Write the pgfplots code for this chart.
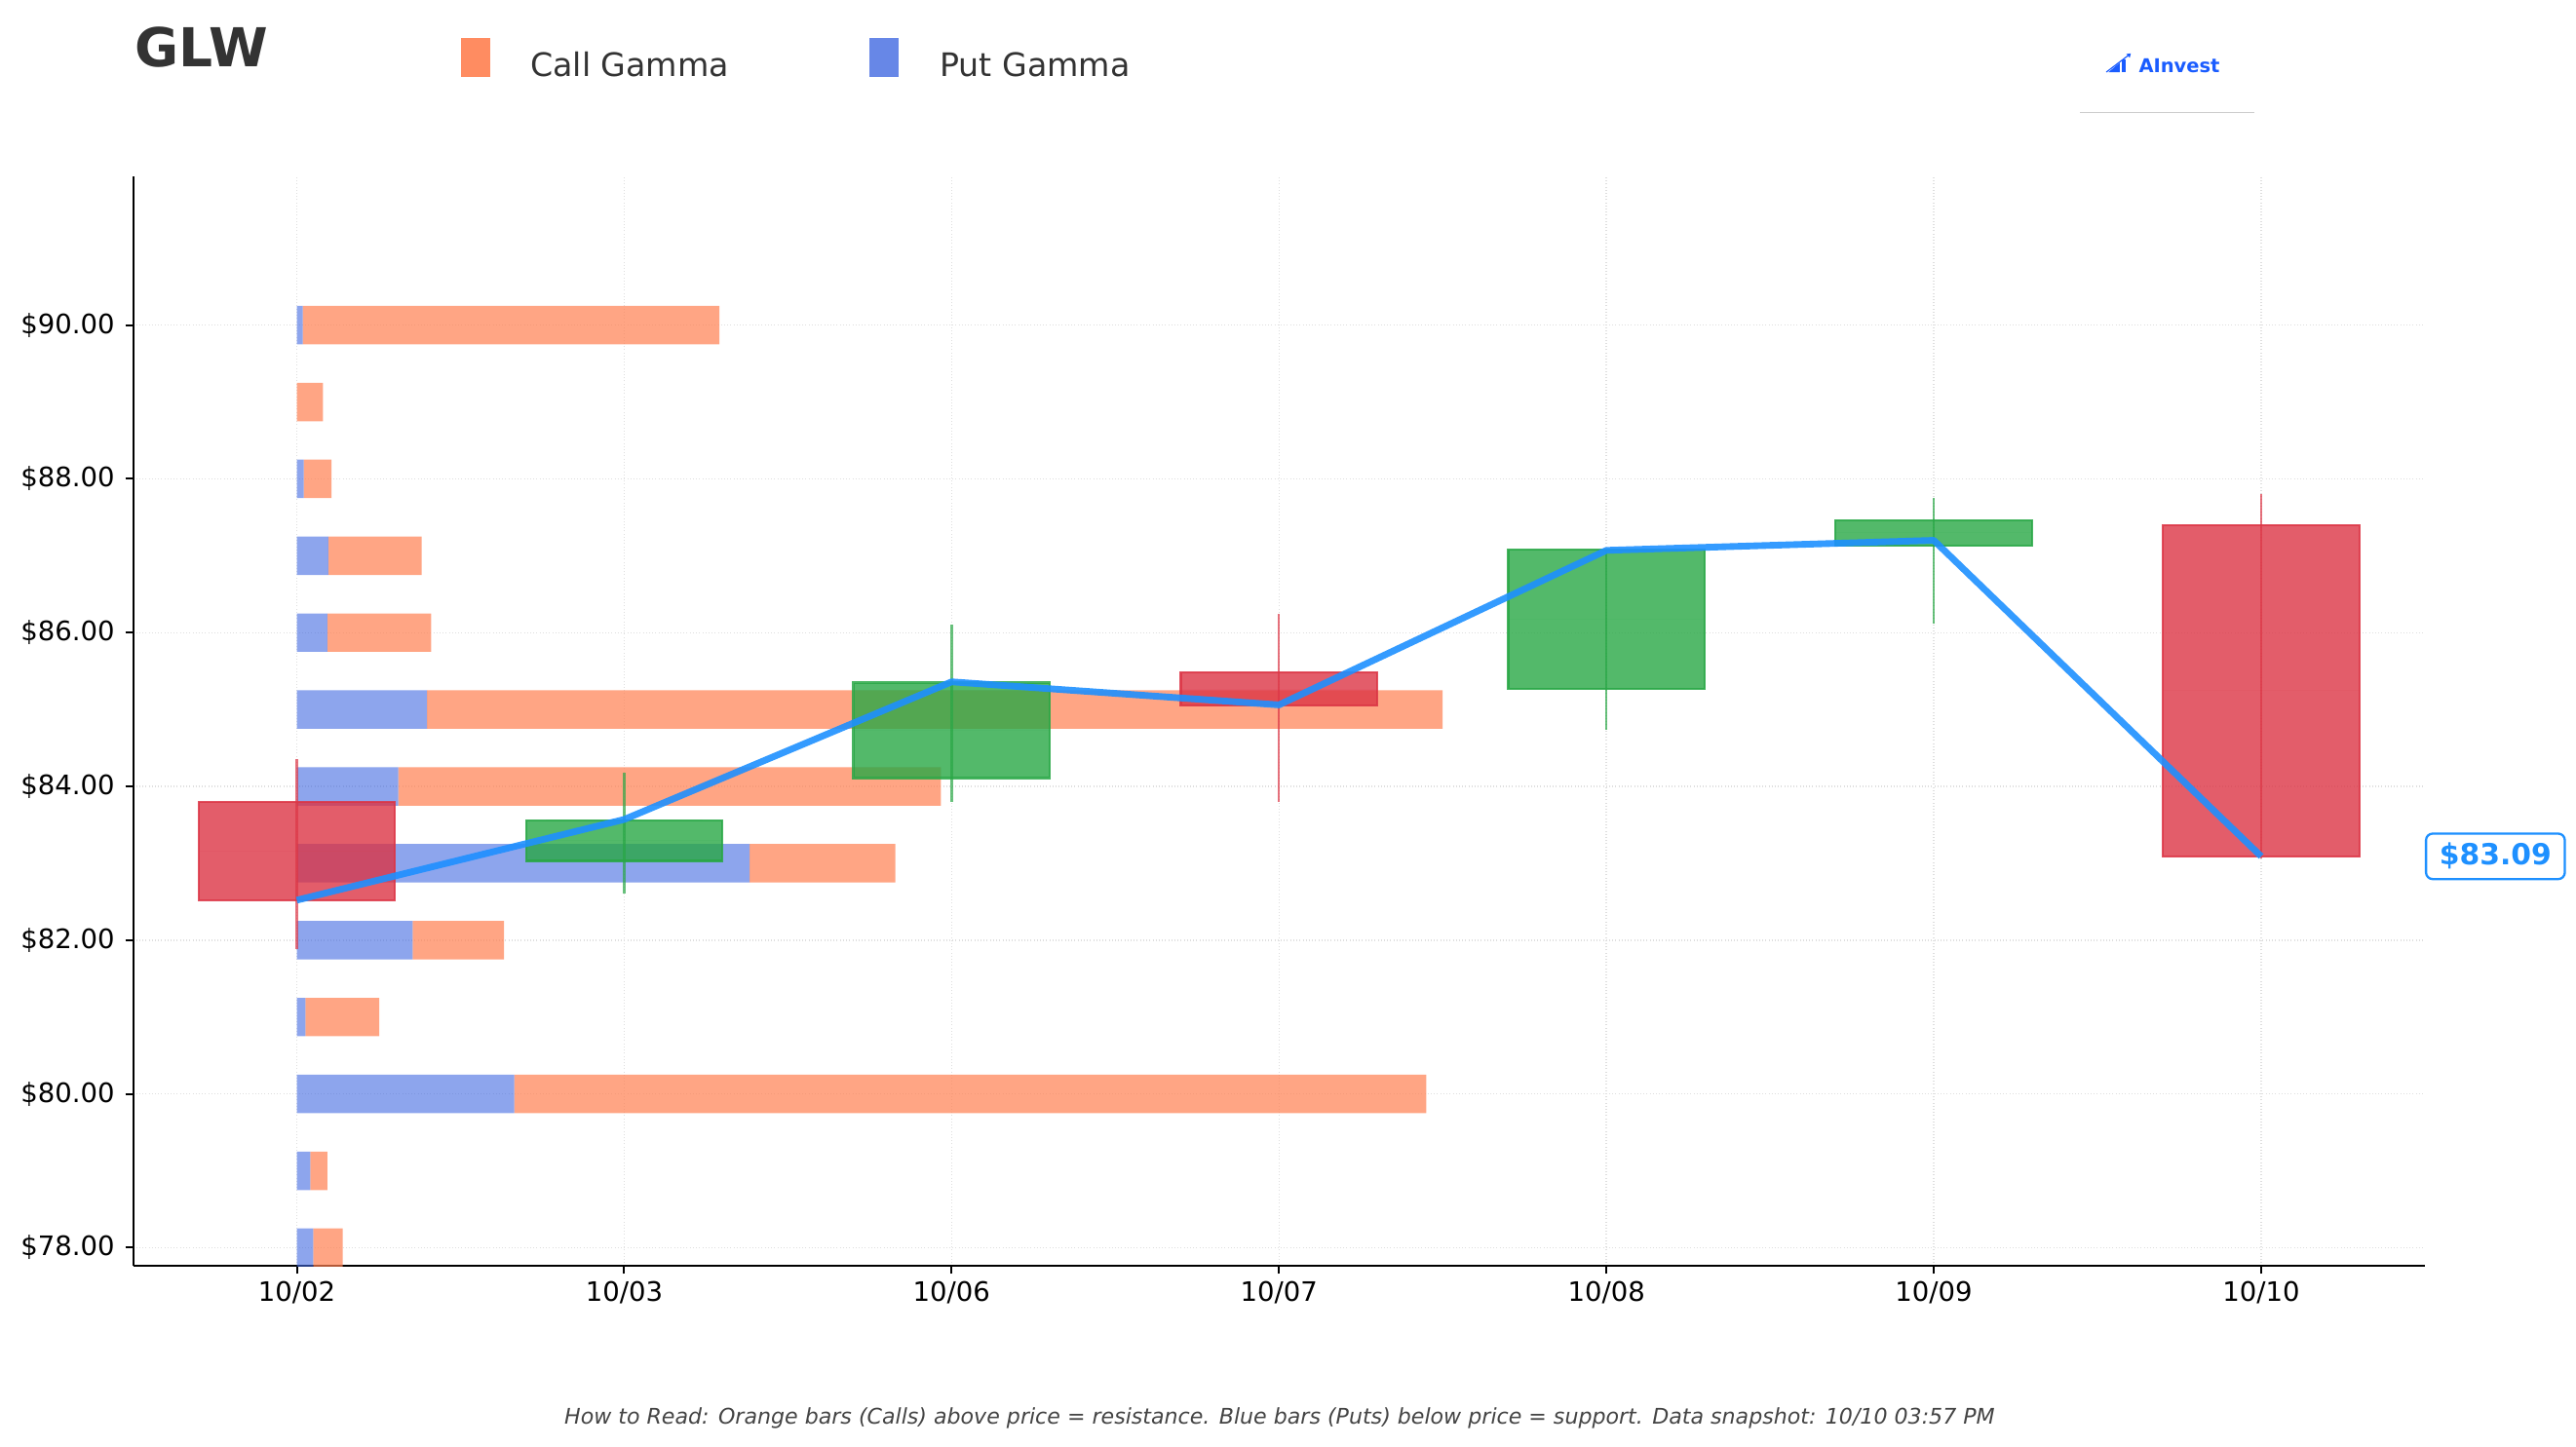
\documentclass[border=0pt]{standalone}
\usepackage{fontspec}
\setmainfont{DejaVu Sans}
\usepackage{pgfplots}
\usepackage{pgfplotstable}
\pgfplotsset{compat=1.18}
\usepgfplotslibrary{statistics}

\definecolor{callc}{HTML}{FF7F50}
\definecolor{putc}{HTML}{4169E1}
\definecolor{upc}{HTML}{28A745}
\definecolor{downc}{HTML}{DC3545}
\definecolor{pricec}{HTML}{1E90FF}
\definecolor{textc}{HTML}{333333}
\definecolor{footc}{HTML}{444444}
\definecolor{brandc}{HTML}{1A5CFF}

% gamma exposure per strike (normalised), puts and calls
\pgfplotstableread{
strike put   call
78     0.050 0.090
79     0.041 0.052
80     0.664 2.786
81     0.026 0.226
82     0.354 0.279
83     1.383 0.445
84     0.310 1.657
85     0.398 3.102
86     0.093 0.317
87     0.096 0.285
88     0.021 0.085
89     0.000 0.080
90     0.018 1.273
}\gammatable

\pgfplotsset{
  chartframe/.style={
    width=1026.1pt, height=488.2pt, scale only axis,
    xmin=-0.5, xmax=6.5, ymin=77.76, ymax=91.94,
    enlargelimits=false,
  },
}

\begin{document}
\begin{tikzpicture}
\useasboundingbox (-59.6pt,-80.6pt) rectangle (1093.7pt,567.0pt);

% gamma bars, grid and axes
\begin{axis}[chartframe,
  axis x line*=bottom, axis y line*=left,
  axis line style={-, line width=0.9pt, black},
  xtick={0,...,6},
  xticklabels={10/02,10/03,10/06,10/07,10/08,10/09,10/10},
  ytick={78,80,...,90},
  yticklabels={\$78.00,\$80.00,\$82.00,\$84.00,\$86.00,\$88.00,\$90.00},
  tick align=outside, major tick length=3.5pt,
  tick style={black, line width=0.9pt},
  tick label style={font=\fontsize{12}{14}\selectfont},
  yticklabel style={xshift=-1.2pt},
  grid=major,
  major grid style={densely dotted, line width=0.6pt, black!13},
  xbar stacked, bar width=0.5,
]
\addplot[fill=putc, fill opacity=0.6, draw=none] table[x=put, y=strike] {\gammatable};
\addplot[fill=callc, fill opacity=0.7, draw=none] table[x=call, y=strike] {\gammatable};
\end{axis}

% daily candles and closing price
\begin{axis}[chartframe, hide axis, clip=false,
  boxplot/draw direction=y,
  boxplot/box extend=0.6,
  boxplot/every median/.style={draw=none},
  boxplot/every whisker/.style={draw=none},
]
% wicks
\addplot[downc, line width=1pt, opacity=0.7, unbounded coords=jump]
  coordinates {(0,81.89) (0,84.36) (0,nan) (3,83.80) (3,86.24) (3,nan) (6,83.06) (6,87.80)};
\addplot[upc, line width=1pt, opacity=0.7, unbounded coords=jump]
  coordinates {(1,82.60) (1,84.18) (1,nan) (2,83.80) (2,86.11) (2,nan) (4,84.74) (4,87.08) (4,nan) (5,86.12) (5,87.75)};
% bodies
\addplot[draw=downc, draw opacity=0.85, fill=downc, fill opacity=0.8, line width=1pt,
  boxplot prepared={draw position=0, lower quartile=82.52, upper quartile=83.80,
    median=83.16, lower whisker=82.52, upper whisker=83.80}] coordinates {};
\addplot[draw=upc, draw opacity=0.85, fill=upc, fill opacity=0.8, line width=1pt,
  boxplot prepared={draw position=1, lower quartile=83.03, upper quartile=83.56,
    median=83.30, lower whisker=83.03, upper whisker=83.56}] coordinates {};
\addplot[draw=upc, draw opacity=0.85, fill=upc, fill opacity=0.8, line width=1pt,
  boxplot prepared={draw position=2, lower quartile=84.11, upper quartile=85.35,
    median=84.73, lower whisker=84.11, upper whisker=85.35}] coordinates {};
\addplot[draw=downc, draw opacity=0.85, fill=downc, fill opacity=0.8, line width=1pt,
  boxplot prepared={draw position=3, lower quartile=85.05, upper quartile=85.48,
    median=85.26, lower whisker=85.05, upper whisker=85.48}] coordinates {};
\addplot[draw=upc, draw opacity=0.85, fill=upc, fill opacity=0.8, line width=1pt,
  boxplot prepared={draw position=4, lower quartile=85.27, upper quartile=87.08,
    median=86.17, lower whisker=85.27, upper whisker=87.08}] coordinates {};
\addplot[draw=upc, draw opacity=0.85, fill=upc, fill opacity=0.8, line width=1pt,
  boxplot prepared={draw position=5, lower quartile=87.13, upper quartile=87.46,
    median=87.30, lower whisker=87.13, upper whisker=87.46}] coordinates {};
\addplot[draw=downc, draw opacity=0.85, fill=downc, fill opacity=0.8, line width=1pt,
  boxplot prepared={draw position=6, lower quartile=83.09, upper quartile=87.40,
    median=85.25, lower whisker=83.09, upper whisker=87.40}] coordinates {};
% price path
\addplot[pricec, opacity=0.9, line width=3pt, line join=round]
  coordinates {(0,82.52) (1,83.57) (2,85.36) (3,85.06) (4,87.07) (5,87.20) (6,83.09)};
% last price tag
\node[anchor=west, draw=pricec, line width=1pt, rounded corners=3pt, fill=white,
  text=pricec, font=\bfseries\fontsize{13}{15}\selectfont,
  inner xsep=6pt, inner ysep=4.3pt] at (axis cs:6.5,83.09) {\$83.09};
\end{axis}

% header
\node[anchor=base west, inner sep=0, text=textc, font=\bfseries\fontsize{24}{28}\selectfont]
  at (0.6pt,536.9pt) {GLW};
\fill[callc, opacity=0.9] (146.6pt,532.5pt) rectangle (160.0pt,549.9pt);
\node[anchor=base west, inner sep=0, text=textc, font=\fontsize{14.5}{17}\selectfont]
  at (177.7pt,532.8pt) {Call Gamma};
\fill[putc, opacity=0.8] (329.6pt,532.5pt) rectangle (342.9pt,549.9pt);
\node[anchor=base west, inner sep=0, text=textc, font=\fontsize{14.5}{17}\selectfont]
  at (361.0pt,532.8pt) {Put Gamma};

% brand mark
\begin{scope}[shift={(883.8pt,534.7pt)}]
  \fill[brandc] (0.6pt,0) -- (5.6pt,0) -- (5.6pt,4.2pt) -- cycle;
  \fill[brandc] (6.4pt,0) rectangle (8.2pt,5.6pt);
  \draw[brandc, line width=0.5pt] (-0.4pt,0) -- (9.6pt,7.6pt);
  \fill[brandc] (10.6pt,8.4pt) -- (8.6pt,8.1pt) -- (10.1pt,6.4pt) -- cycle;
\end{scope}
\node[anchor=base west, inner sep=0, text=brandc, font=\bfseries\fontsize{8.5}{10}\selectfont]
  at (897.8pt,534.7pt) {AInvest};
\draw[black!20, line width=0.6pt] (871.6pt,516.7pt) -- (949.6pt,516.7pt);

% footer note
\node[anchor=base, inner sep=0, text=footc, font=\itshape\fontsize{9.65}{12}\selectfont]
  at (513.3pt,-70.6pt) {How to Read: Orange bars (Calls) above price = resistance. Blue bars (Puts) below price = support. Data snapshot: 10/10 03:57 PM};
\end{tikzpicture}
\end{document}
